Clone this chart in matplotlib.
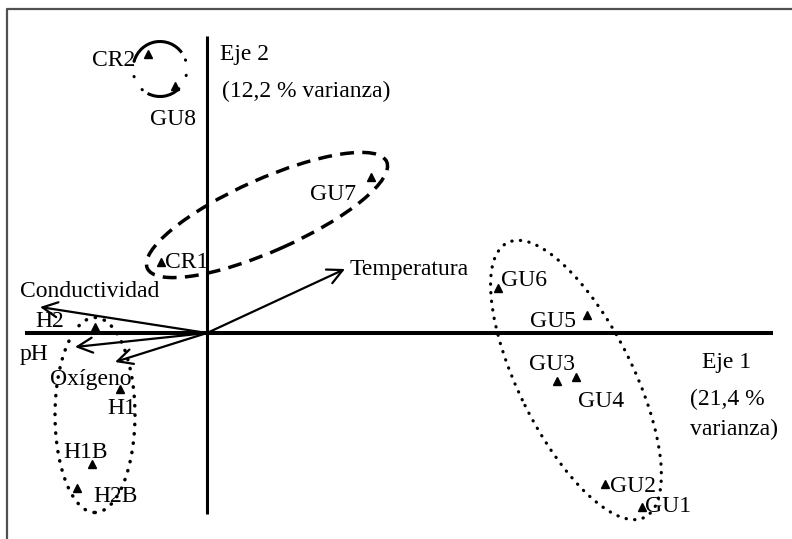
import matplotlib
matplotlib.use("Agg")
import matplotlib.pyplot as plt
from matplotlib.patches import Ellipse, Arc

plt.rcParams['font.family'] = ['Liberation Serif', 'DejaVu Serif']

# sample scores on the two axes (Eje 1, Eje 2)
sites = ['CR2', 'GU8', 'GU7', 'CR1', 'H2', 'H1', 'H1B', 'H2B',
         'GU6', 'GU5', 'GU3', 'GU4', 'GU2', 'GU1']
eje1 = [-0.59, -0.32, 1.64, -0.46, -1.12, -0.87, -1.15, -1.30,
        2.91, 3.80, 3.50, 3.69, 3.98, 4.35]
eje2 = [2.79, 2.47, 1.56, 0.71, 0.06, -0.56, -1.31, -1.55,
        0.45, 0.18, -0.48, -0.44, -1.51, -1.74]

# environmental variables (vector tips)
variables = ['Conductividad', 'pH', 'Oxígeno', 'Temperatura']
var1 = [-1.67, -1.32, -0.92, 1.38]
var2 = [0.26, -0.14, -0.29, 0.64]

# label offsets in pixels (dx, dy) and alignment
site_offsets = {
    'CR2': (-13, -12, 'right'), 'GU8': (-25, -39, 'left'),
    'GU7': (-61, -23, 'left'), 'CR1': (4, -6, 'left'),
    'H2': (-60, 0, 'left'), 'H1': (-13, -25, 'left'),
    'H1B': (-29, 6, 'left'), 'H2B': (16, -14, 'left'),
    'GU6': (3, 2, 'left'), 'GU5': (-57, -12, 'left'),
    'GU3': (-28, 11, 'left'), 'GU4': (2, -30, 'left'),
    'GU2': (5, -8, 'left'), 'GU1': (3, -5, 'left'),
}
var_label_pos = {
    'Conductividad': (-1.87, 0.36), 'pH': (-1.87, -0.27),
    'Oxígeno': (-1.57, -0.52), 'Temperatura': (1.43, 0.58),
}

fig = plt.figure(figsize=(7.92, 5.39), dpi=100)
ax = fig.add_axes([0, 0, 1, 1])
ax.set_xlim(-2.07, 5.85)
ax.set_ylim(-2.06, 3.33)
ax.axis('off')

fs = 17

# outer frame (only top and left edges visible)
ax.plot([-2.00, -2.00, 6.0], [-2.2, 3.24, 3.24], color='#505050', lw=1.6,
        clip_on=False)

# axes
ax.plot([-1.82, 5.66], [0, 0], color='black', lw=2.9, solid_capstyle='butt')
ax.plot([0, 0], [-1.81, 2.97], color='black', lw=2.2, solid_capstyle='butt')

# vectors
for name, vx, vy in zip(variables, var1, var2):
    ax.annotate('', xy=(vx, vy), xytext=(0, 0),
                arrowprops=dict(arrowstyle='->,head_length=0.6,head_width=0.3',
                                lw=1.6, color='black', mutation_scale=18,
                                shrinkA=0, shrinkB=0))
    tx, ty = var_label_pos[name]
    ax.text(tx, ty, name, fontsize=fs, ha='left', va='baseline')

# sites
ax.plot(eje1, eje2, linestyle='none', marker='^', markersize=6, color='black')
for name, x, y in zip(sites, eje1, eje2):
    dx, dy, ha = site_offsets[name]
    ax.annotate(name, (x, y), xytext=(dx, dy), textcoords='offset pixels',
                fontsize=fs, ha=ha, va='baseline')

# groups
dot = (0, (0.1, 2.6))
ax.add_patch(Ellipse((0.60, 1.18), 2.62, 0.72, angle=24, fill=False,
                     lw=2.5, ls=(0, (4, 2.4)), color='black'))
ax.add_patch(Ellipse((-1.12, -0.82), 0.80, 1.95, fill=False,
                     lw=2.5, ls=dot, color='black', capstyle='round'))
ax.add_patch(Ellipse((3.69, -0.47), 3.07, 1.14, angle=-63.5, fill=False,
                     lw=2.3, ls=dot, color='black', capstyle='round'))
ax.add_patch(Arc((-0.47, 2.64), 0.54, 0.55, theta1=37, theta2=163,
                 lw=2.2, color='black'))
ax.add_patch(Arc((-0.47, 2.64), 0.54, 0.55, theta1=243, theta2=313,
                 lw=2.2, color='black'))
ax.add_patch(Arc((-0.47, 2.64), 0.54, 0.55, theta1=163, theta2=243,
                 lw=2.2, ls=(0, (0.1, 5)), color='black', capstyle='round'))
ax.add_patch(Arc((-0.47, 2.64), 0.54, 0.55, theta1=313, theta2=397,
                 lw=2.2, ls=(0, (0.1, 5)), color='black', capstyle='round'))

# axis titles
ax.text(0.13, 2.73, 'Eje 2', fontsize=fs, ha='left', va='baseline')
ax.text(0.15, 2.36, '(12,2 % varianza)', fontsize=fs, ha='left', va='baseline')
ax.text(4.95, -0.35, 'Eje 1', fontsize=fs, ha='left', va='baseline')
ax.text(4.83, -0.72, '(21,4 %', fontsize=fs, ha='left', va='baseline')
ax.text(4.83, -1.02, 'varianza)', fontsize=fs, ha='left', va='baseline')

fig.savefig('out.png', dpi=100)
